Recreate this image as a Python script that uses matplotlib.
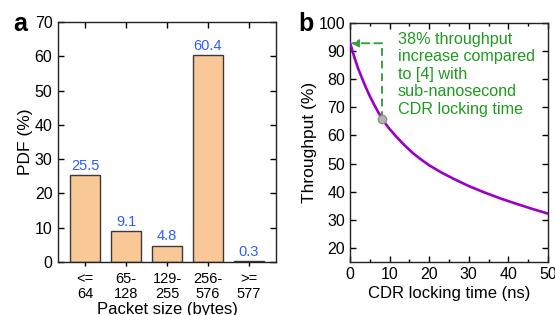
import matplotlib
matplotlib.use("Agg")
import matplotlib.pyplot as plt

plt.rcParams['font.family'] = ['Liberation Sans', 'DejaVu Sans']

# Panel a data
categories = ["<=\n64", "65-\n128", "129-\n255", "256-\n576", ">=\n577"]
pdf_values = [25.5, 9.1, 4.8, 60.4, 0.3]

# Panel b data
lock_time = [0, 1, 2, 3, 4, 5, 6, 7, 8, 9, 10, 12, 14, 16, 18, 20, 23, 26, 30, 34, 38, 42, 46, 50]
throughput = [93, 88.3, 84, 80.5, 77.1, 74, 71.2, 68.6, 66.2, 64.1, 62.3, 59.1, 56.2, 53.6,
              51.4, 49.4, 46.9, 44.7, 42, 39.7, 37.6, 35.7, 33.9, 32.2]
marker_t = 8.1
marker_T = 66.0
arrow_T = 92.8
annotation = "38% throughput\nincrease compared\nto [4] with\nsub-nanosecond\nCDR locking time"

W, H = 555, 315
fig = plt.figure(figsize=(W / 100, H / 100), dpi=100)

def box(l, t, r, b):
    return [l / W, 1 - b / H, (r - l) / W, (b - t) / H]

green_txt = "#1f9a1f"
green_ln = "#3aa043"
blue_txt = "#2f5cff"
spine_c = "#222222"

# ---------- Panel a ----------
ax = fig.add_axes(box(58, 22, 276, 262))
xs = list(range(len(categories)))
ax.bar(xs, pdf_values, width=0.71, color="#f9c896", edgecolor="#3a3a3a", linewidth=1.0, zorder=2)
for x, v in zip(xs, pdf_values):
    ax.text(x, v + 0.6, f"{v}", ha="center", va="bottom", color=blue_txt, fontsize=10.5)
ax.set_xlim(-0.66, 4.66)
ax.set_ylim(0, 70)
ax.set_yticks(range(0, 71, 10))
ax.set_xticks(xs)
ax.set_xticklabels(categories, fontsize=10.5, linespacing=1.1)
ax.tick_params(axis="y", direction="in", length=4, labelsize=11.5, right=True, width=1, pad=4)
ax.tick_params(axis="x", direction="out", length=3, top=False, width=1, pad=4)
sec = ax.secondary_xaxis("top")
sec.set_xticks(xs)
sec.set_xticklabels([])
sec.tick_params(direction="in", length=4, width=1)
ax.set_ylabel("PDF (%)", fontsize=12.5, labelpad=1)
ax.set_xlabel("Packet size (bytes)", fontsize=12, labelpad=1)
for s in ax.spines.values():
    s.set_color(spine_c)
    s.set_linewidth(1)
sec.spines["top"].set_visible(False)
fig.text(20 / W, 1 - 24 / H, "a", fontsize=18, fontweight="bold", ha="center", va="center")

# ---------- Panel b ----------
bx = fig.add_axes(box(350, 23, 548, 262))
bx.plot(lock_time, throughput, color="#9a00c8", linewidth=1.9, zorder=3)
bx.plot([marker_t, marker_t], [marker_T, arrow_T], color=green_ln, linestyle=(0, (4, 2.5)), linewidth=1.4, zorder=2)
bx.annotate("", xy=(0.2, arrow_T), xytext=(marker_t, arrow_T),
            arrowprops=dict(arrowstyle="-|>", color=green_ln, linestyle=(0, (4, 2.5)),
                            linewidth=1.4, mutation_scale=11, shrinkA=0, shrinkB=0))
bx.plot([marker_t], [marker_T], "o", color="#b4b4b4", markeredgecolor="#909090", markersize=6, zorder=4)
bx.text(12.0, 96.8, annotation, color=green_txt, fontsize=11.6, ha="left", va="top", linespacing=1.2)
bx.set_xlim(0, 50)
bx.set_ylim(15, 100)
bx.set_xticks(range(0, 51, 10))
bx.set_xticks(range(5, 50, 10), minor=True)
bx.set_yticks(range(20, 101, 10))
bx.tick_params(axis="both", which="major", direction="in", length=4, width=1,
               top=True, right=True, labelsize=11.5)
bx.tick_params(axis="x", which="minor", direction="in", length=2.5, width=1, top=True)
bx.set_xlabel("CDR locking time (ns)", fontsize=12, labelpad=3)
bx.set_ylabel("Throughput (%)", fontsize=12.5, labelpad=1)
for s in bx.spines.values():
    s.set_color(spine_c)
    s.set_linewidth(1)
fig.text(306 / W, 1 - 24 / H, "b", fontsize=18, fontweight="bold", ha="center", va="center")

fig.savefig("out.png", dpi=100)
